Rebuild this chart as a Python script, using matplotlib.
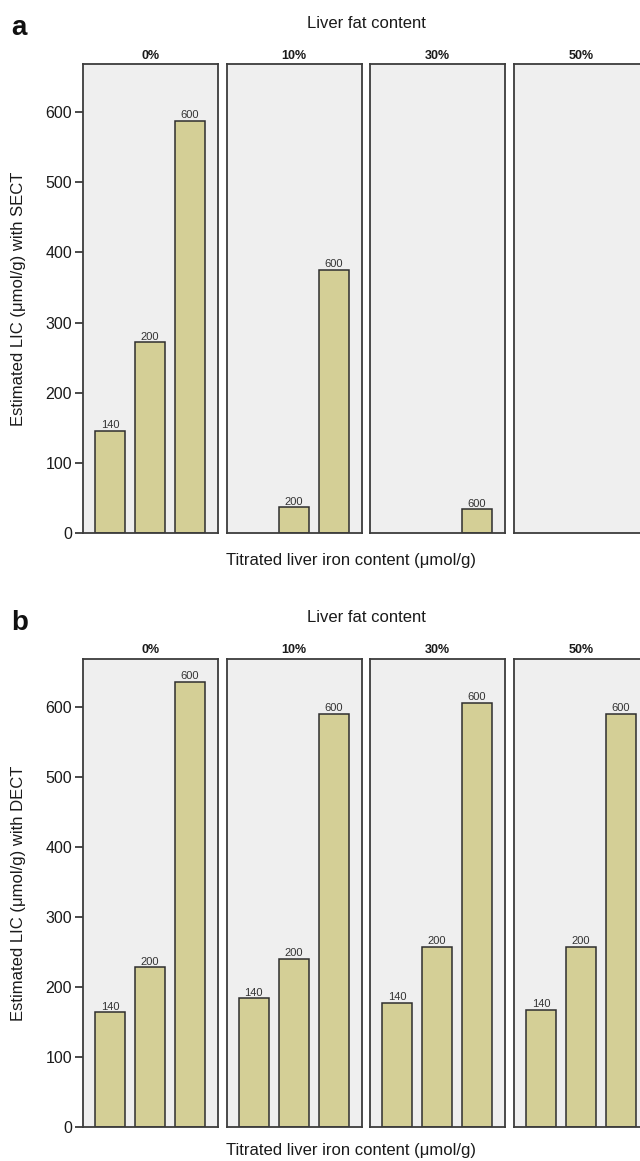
import numpy as np
import matplotlib
matplotlib.use("Agg")
import matplotlib.pyplot as plt

plt.rcParams["font.family"] = ["Liberation Sans", "DejaVu Sans"]

fat_levels = ["0%", "10%", "30%", "50%"]
iron_levels = ["140", "200", "600"]

# estimated LIC (umol/g) per fat level, nan = no bar drawn
sect_0 = [146, 272, 587]
sect_10 = [np.nan, 37, 375]
sect_30 = [np.nan, np.nan, 34]
sect_50 = [np.nan, np.nan, np.nan]

dect_0 = [164, 228, 635]
dect_10 = [184, 240, 590]
dect_30 = [178, 257, 605]
dect_50 = [168, 257, 590]

sect = [sect_0, sect_10, sect_30, sect_50]
dect = [dect_0, dect_10, dect_30, dect_50]

W, H = 640, 1161
fig = plt.figure(figsize=(W / 100, H / 100), dpi=100)

panel_left = [83, 226.7, 370, 514]
panel_w = 135
ymax = 668


def draw_row(data, y_bottom, y_top, letter, ylabel, xlab_off):
    # y_bottom / y_top in pixels from the top of the image
    b = 1 - y_bottom / H
    h = (y_bottom - y_top) / H
    for i, vals in enumerate(data):
        ax = fig.add_axes([panel_left[i] / W, b, panel_w / W, h])
        ax.set_facecolor("#efefef")
        x = np.arange(len(iron_levels))
        v = np.array(vals, dtype=float)
        ok = ~np.isnan(v)
        ax.bar(x[ok], v[ok], width=0.75, color="#d4cf96",
               edgecolor="#2e2e2e", linewidth=1.1, zorder=2)
        for xi, vi, lab in zip(x, v, iron_levels):
            if not np.isnan(vi):
                ax.text(xi, vi + 1, lab, ha="center", va="bottom",
                        fontsize=8, color="#333333")
        ax.set_xlim(-0.675, 2.7)
        ax.set_ylim(0, ymax)
        ax.set_xticks([])
        for s in ax.spines.values():
            s.set_color("#3c3c3c")
            s.set_linewidth(1.3)
        if i == 0:
            ax.set_yticks(range(0, 700, 100))
            ax.tick_params(axis="y", length=6, width=1.3, color="#3c3c3c",
                           labelsize=11.5, labelcolor="#1a1a1a", pad=2)
        else:
            ax.set_yticks([])
        ax.set_title(fat_levels[i], fontsize=9, fontweight="bold",
                     color="#1a1a1a", pad=4)
    y_mid = 1 - (y_bottom + y_top) / 2 / H
    fig.text(19 / W, y_mid, ylabel, rotation=90, ha="center", va="center",
             fontsize=12, color="#1a1a1a")
    fig.text(366 / W, 1 - (y_top - 41) / H, "Liver fat content", ha="center",
             va="center", fontsize=12, color="#1a1a1a")
    fig.text(11 / W, 1 - (y_top - 36) / H, letter, ha="left", va="center",
             fontsize=20, fontweight="bold", color="#111111")
    fig.text(351 / W, 1 - (y_bottom + xlab_off) / H,
             "Titrated liver iron content (\u03bcmol/g)", ha="center",
             va="center", fontsize=12, color="#1a1a1a")


draw_row(sect, 533.3, 64.3, "a", "Estimated LIC (\u03bcmol/g) with SECT", 27)
draw_row(dect, 1127.3, 659, "b", "Estimated LIC (\u03bcmol/g) with DECT", 23)

fig.savefig("out.png", dpi=100)
